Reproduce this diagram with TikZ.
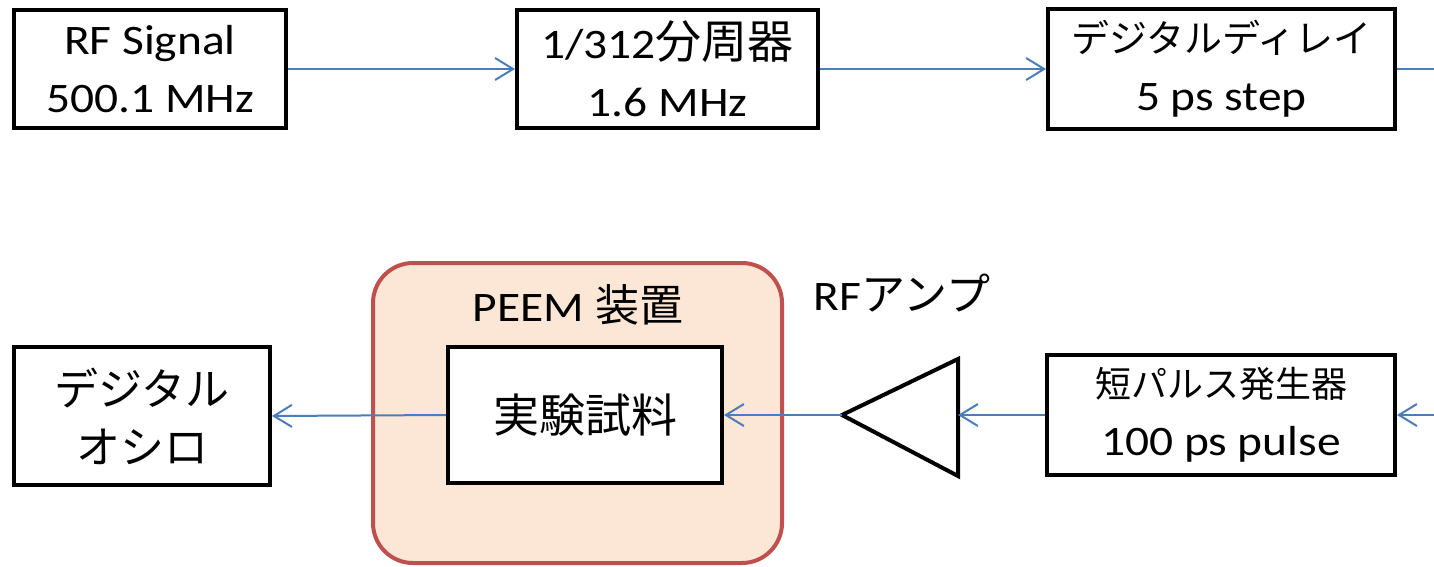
\documentclass[tikz,border=0pt]{standalone}
\usepackage{fontspec}
\setmainfont[FakeStretch=1.13]{Carlito}
\newfontfamily\jpfont{Noto Sans CJK JP}
\usetikzlibrary{arrows.meta}
\definecolor{conn}{HTML}{4A7EBB}
\definecolor{peemfill}{HTML}{FCE6D6}
\definecolor{peemdraw}{HTML}{C0504D}
\newcommand{\jtxt}[2][44]{{\jpfont\fontsize{#1}{58}\selectfont #2}}
\begin{document}
\begin{tikzpicture}[x=1pt,y=-1pt,
  box/.style={draw=black,line width=4pt,inner sep=0pt,align=center,font=\fontsize{42}{58}\selectfont},
  lbl/.style={inner sep=0pt,font=\fontsize{42}{58}\selectfont},
  link/.style={draw=conn,line width=2pt},
  arr/.style={link,-{Straight Barb[length=18pt,width=22pt]}}]
\useasboundingbox (0,0) rectangle (1434,566);
\fill[white] (0,0) rectangle (1434,566);
% top row
\node[box,minimum width=272pt,minimum height=118pt] (rf) at (150,69) {RF Signal\\500.1 MHz};
\node[box,minimum width=301pt,minimum height=118pt] (div) at (667.5,69) {1/312\jtxt[46]{分周器}\\1.6 MHz};
\node[box,minimum width=347pt,minimum height=120pt] (delay) at (1221.5,69) {\jtxt[38]{デジタルディレイ}\\5 ps step};
\coordinate (outR) at (1434,69);
% bottom row
\node[box,minimum width=348pt,minimum height=120pt] (pulse) at (1221,415) {\jtxt[36]{短パルス発生器}\\100 ps pulse};
\coordinate (inR) at (1434,415);
\node[draw=peemdraw,fill=peemfill,line width=4pt,rounded corners=40pt,minimum width=409pt,minimum height=300pt] (peem) at (577.5,413) {};
\node[lbl] (peemlabel) at (578,305) {PEEM \jtxt{装置}};
\node[box,fill=white,minimum width=274pt,minimum height=136pt] (sample) at (585,415) {\jtxt[46]{実験試料}};
\node[box,minimum width=256pt,minimum height=138pt] (osc) at (142,416) {\jtxt{デジタル}\\\jtxt{オシロ}};
\node[lbl] (amplabel) at (902,293) {RF\jtxt{アンプ}};
\coordinate (ampin) at (958,415);
\coordinate (ampout) at (842,415);
\coordinate (amptop) at (958,359);
\coordinate (ampbot) at (958,476);
\draw[line width=4pt,line join=miter] (amptop) -- (ampout) -- (ampbot) -- cycle;
% connectors
\draw[arr] (rf.east) -- (div.west);
\draw[arr] (div.east) -- (delay.west);
\draw[link] (delay.east) -- (outR);
\draw[arr] (inR) -- (pulse.east);
\draw[arr] (pulse.west) -- (ampin);
\draw[arr] (ampout) -- (sample.east);
\draw[arr] (sample.west) -- (osc.east);
\end{tikzpicture}
\end{document}
